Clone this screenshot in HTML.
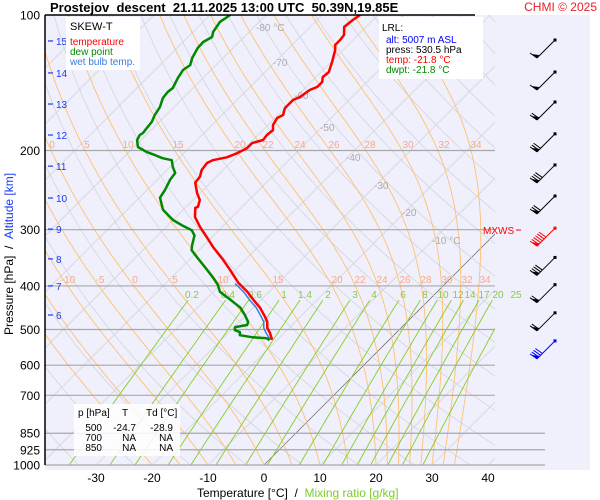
<!DOCTYPE html>
<html><head><meta charset="utf-8"><style>
body{margin:0;background:#fff;}
svg{display:block;font-family:"Liberation Sans",sans-serif;}
</style></head><body>
<svg id="c" width="600" height="500" viewBox="0 0 600 500" xmlns="http://www.w3.org/2000/svg">
<rect x="45" y="15" width="545" height="455" fill="#f0f0fc"/>
<defs><clipPath id="pc"><rect x="45" y="15" width="450" height="450"/></clipPath></defs>
<g id="bg" clip-path="url(#pc)"></g>
<g id="hl"></g>
<g id="lbl"></g>
<g id="ser" clip-path="url(#pc)"></g>
<g id="ax"></g>
<g id="wind"></g>

<line x1="45" y1="15" x2="475" y2="15" stroke="#000" stroke-width="1.5"/>
<line x1="45" y1="15" x2="45" y2="465" stroke="#000" stroke-width="1.5"/>
<text x="50" y="12" font-size="13" font-weight="bold">Prostejov&#160;&#160;descent&#160;&#160;21.11.2025 13:00 UTC&#160;&#160;50.39N,19.85E</text>
<text x="597" y="11" font-size="12" fill="#e8202a" text-anchor="end">CHMI © 2025</text>

<g>
<rect x="66" y="17" width="74" height="53" fill="#fff"/>
<text x="70" y="30" font-size="11">SKEW-T</text>
<text x="70" y="45" font-size="10" fill="#f00">temperature</text>
<text x="70" y="55" font-size="10" fill="#080">dew point</text>
<text x="70" y="65" font-size="10" fill="#3a7ce0">wet bulb temp.</text>
</g>
<g>
<rect x="379" y="17" width="104" height="62" fill="#fff"/>
<text x="382" y="31" font-size="10">LRL:</text>
<text x="386" y="43" font-size="10" fill="#00f">alt: 5007 m ASL</text>
<text x="386" y="53" font-size="10">press: 530.5 hPa</text>
<text x="386" y="63" font-size="10" fill="#f00">temp: -21.8 °C</text>
<text x="386" y="73" font-size="10" fill="#080">dwpt: -21.8 °C</text>
</g>
<g>
<rect x="74" y="404" width="106" height="52" fill="#fff" fill-opacity="0.85"/>
<text x="78" y="416" font-size="10">p [hPa]</text>
<text x="122" y="416" font-size="10">T</text>
<text x="146" y="416" font-size="10">Td [°C]</text>
<g font-size="10" text-anchor="end">
<text x="102" y="431">500</text><text x="136" y="431">-24.7</text><text x="173" y="431">-28.9</text>
<text x="102" y="441">700</text><text x="136" y="441">NA</text><text x="173" y="441">NA</text>
<text x="102" y="451">850</text><text x="136" y="451">NA</text><text x="173" y="451">NA</text>
</g></g>
<text x="483" y="234" font-size="10" fill="#f00">MXWS</text>
<line x1="516" y1="230" x2="521" y2="230" stroke="#f00"/>

<text font-size="12" transform="translate(13,335) rotate(-90)">Pressure [hPa]&#160;&#160;/&#160;&#160;<tspan fill="#1a3cf0">Altitude [km]</tspan></text>
<text x="197" y="497" font-size="12">Temperature [°C]&#160;&#160;/&#160;&#160;<tspan fill="#7ccc2a">Mixing ratio [g/kg]</tspan></text>
</svg>
<script>
// ---- data ----
const tempP = [100,102.6,106.3,110.8,113.6,116.6,119.6,127.2,133.9,137.3,140.9,144.5,146.8,152.1,154.5,161,166.8,169.4,175.6,180.2,184.8,189.6,192.6,197.8,202.9,207.1,210.2,213.3,221,228.9,235.8,248.8,257.6,266.8,268.2,281.2,296,311.7,328,350.2,368.5,393.8,412.3,429.4,447.1,468.2,480.7,495.8,509,527];
const tempT = [-63.2,-63.6,-63.9,-62.5,-62.3,-62.3,-61.4,-59.8,-58.6,-58.8,-58,-58,-58.8,-59.3,-60,-60,-59.1,-59.6,-59.1,-58.2,-58.4,-58.2,-59.6,-59.6,-60.5,-61.6,-63.6,-64.1,-63.8,-62.9,-62.7,-60.5,-58.8,-57.9,-58.2,-56.6,-53.9,-50.9,-48,-43.9,-40.9,-37.1,-33.9,-31.4,-28.8,-26.3,-25,-23.9,-22.5,-20.9];
const dewP = [100,103.6,109.1,111.9,114.8,118.4,124.6,129.2,132.5,138,145.3,148.2,152.9,160.2,166.8,172.9,178.3,182.9,184.8,189.6,196.5,201.7,204.8,208.1,210.2,217.7,224.4,232.4,244.6,254.7,271,285.5,293.1,300.9,309,324.7,333,345.2,368.5,383.8,397.9,412.3,429.4,447.1,464.2,480.7,488.5,493.7,501.5,506.8,514.8,520.2,523,528];
const dewT = [-86.4,-87,-86.4,-85.7,-86.4,-86.3,-85.5,-84.6,-85,-84.5,-83.6,-83.8,-83.6,-82.5,-82,-81.3,-81.1,-80.9,-81.1,-80.7,-79.3,-76.8,-74.8,-72.9,-70.9,-69.5,-68,-67.7,-66.8,-66.3,-63.6,-60,-57.5,-54.8,-53.4,-52.1,-51.3,-49.1,-45,-42.5,-40.4,-38.8,-35.5,-32.3,-30.2,-28.4,-28,-29.8,-29.3,-28,-27.5,-24.8,-22.1,-21.3];
const wetP = [395,412,430,447,468,481,496,509,527];
const wetT = [-37.6,-34.6,-32,-29.5,-27,-25.6,-24.5,-23.2,-21.2];
const pressTicks = [100,200,300,400,500,600,700,850,925,1000];
const tempTicks = [-30,-20,-10,0,10,20,30,40];
const altKm = [15,14,13,12,11,10,9,8,7,6];
const altP = [114.2,134.5,157.7,184.8,216.7,255.1,299,348.3,400,464.2];
const thetaW = [-20,-15,-10,-5,0,5,10,15,20,22,24,26,28,30,32,34];
const mixRatios = [0.2,0.4,0.6,1,1.4,2,3,4,6,8,10,12,14,17,20,25];
const windP = [125.9,148.3,172.9,203.5,238.6,279.7,329.7,383,440.3,508.5,587];
const windBarbs = [1,1,2,3,4,3,6,4,2,2,4];

const NS='http://www.w3.org/2000/svg';
function Y(p){return 15+450*Math.log10(p/100);}
function X(T,p){return 264+5.6*T+(465-Y(p));}
function mk(tag,attrs,parent){const e=document.createElementNS(NS,tag);for(const k in attrs)e.setAttribute(k,attrs[k]);parent.appendChild(e);return e;}
const bg=document.getElementById('bg'),hl=document.getElementById('hl'),lbl=document.getElementById('lbl'),ser=document.getElementById('ser'),ax=document.getElementById('ax'),wind=document.getElementById('wind');

for(let T=-140;T<=40;T+=10){
  const l=mk('line',{x1:X(T,1000),y1:Y(1000),x2:X(T,100),y2:Y(100),stroke:T===0?'#777':'#d4d4dc','stroke-width':0.8},bg);
  
  
}
for(let th=220;th<=480;th+=10){
  let d='';
  for(let p=1000;p>=100;p-=10){const T=th*Math.pow(p/1000,0.286)-273.15;d+=(d?'L':'M')+X(T,p).toFixed(1)+','+Y(p).toFixed(1);}
  const l=mk('path',{d:d,fill:'none',stroke:'#d4d4dc','stroke-width':0.8},bg);
  
  
}
function es(T){return 6.112*Math.exp(17.67*T/(T+243.5));}
thetaW.forEach(tw=>{
  let T=tw,d='M'+X(T,1000).toFixed(1)+','+Y(1000).toFixed(1);
  for(let p=1000;p>100;p-=2){
    const Tk=T+273.15,rs=0.622*es(T)/(p-es(T));
    const dTdp=(287*Tk+2.5e6*rs)/(p*(1004+2.5e6*2.5e6*rs*0.622/(287*Tk*Tk)));
    T-=dTdp*2;
    d+='L'+X(T,p-2).toFixed(1)+','+Y(p-2).toFixed(1);
  }
  const l=mk('path',{d:d,fill:'none',stroke:'#ffc070','stroke-width':0.9},bg);
  
  
});
mixRatios.forEach(w=>{
  let d='';
  for(let p=1000;p>=430;p-=10){
    const e=w*p/(622+w),x=Math.log(e/6.112),T=243.5*x/(17.67-x);
    d+=(d?'L':'M')+X(T,p).toFixed(1)+','+Y(p).toFixed(1);
  }
  const l=mk('path',{d:d,fill:'none',stroke:'#88cc22','stroke-width':0.9},bg);
  
  
});
pressTicks.forEach(p=>{
  if(p!==100){
    const l=mk('line',{x1:45,x2:p>=850?545:495,y1:Y(p),y2:Y(p),stroke:'#a8a8a8','stroke-width':1.2},hl);
    
    
  }
  const t=mk('text',{x:40,y:Y(p)+4.5,'font-size':12,'text-anchor':'end'},ax);t.textContent=p;
  
  
});
tempTicks.forEach(T=>{
  const t=mk('text',{x:X(T,1000),y:482,'font-size':12,'text-anchor':'middle'},ax);t.textContent=T;
  
  
});
altKm.forEach((k,i)=>{
  const y=Y(altP[i]);
  const l=mk('line',{x1:48,x2:53,y1:y,y2:y,stroke:'#1a3cf0','stroke-width':1.2},ax);
  
  
  const t=mk('text',{x:56,y:y+4,'font-size':10,fill:'#1a3cf0'},ax);t.textContent=k;
  
  
});
const isoLab=[['-80 °C',256,31],['-70',273,66],['-60',294,99],['-50',320,131],['-40',346,161],['-30',374,189],['-20',402,216],['-10 °C',432,244]];
isoLab.forEach(a=>{const t=mk('text',{x:a[1],y:a[2],'font-size':10,fill:'#aaa'},lbl);t.textContent=a[0];
  
  });
const tw200=[[0,52],[5,87],[10,128],[15,178],[20,240],[22,268],[24,300],[26,334],[28,370],[30,408],[32,444],[34,476]];
const tw400=[[-10,68],[-5,100],[0,135],[5,175],[10,223],[15,278],[20,337],[22,360],[24,382],[26,405],[28,426],[30,447],[32,467],[34,485]];
tw200.forEach(a=>{const t=mk('text',{x:a[1],y:148,'font-size':10,fill:'#f8a888','text-anchor':'middle'},lbl);t.textContent=a[0];
  
  });
tw400.forEach(a=>{const t=mk('text',{x:a[1],y:283,'font-size':10,fill:'#f8a888','text-anchor':'middle'},lbl);t.textContent=a[0];
  
  });
const mrX=[192,228,255,284,305,328,355,374,403,425,443,458,470,484,498,516];
mixRatios.forEach((w,i)=>{const t=mk('text',{x:mrX[i],y:298,'font-size':10,fill:'#88cc44','text-anchor':'middle'},lbl);t.textContent=w;
  
  });

function series(P,T,color,w,name){
  let d='';P.forEach((p,i)=>{d+=(i?'L':'M')+X(T[i],p).toFixed(1)+','+Y(p).toFixed(1);});
  const l=mk('path',{d:d,fill:'none',stroke:color,'stroke-width':w,'stroke-linejoin':'round'},ser);
  
  
}
series(wetP,wetT,'#3a7ce0',1.5,'wet-bulb-line');
series(dewP,dewT,'#008800',2.5,'dew-point-line');
series(tempP,tempT,'#ff0000',2.5,'temperature-line');

windP.forEach((p,i)=>{
  const y=Y(p),n=windBarbs[i];
  const col=i===6?'#f00':(i===10?'#00f':'#000');
  const g=mk('g',{stroke:col,fill:col},wind);
  
  
  const tx=555,ty=y-20,bx=537,by=y-2;
  mk('line',{x1:tx,y1:ty,x2:bx,y2:by,'stroke-width':1},g);
  mk('rect',{x:tx-1.5,y:ty-1.5,width:3,height:3,stroke:'none'},g);
  for(let k=0;k<n;k++){
    const f=k*0.1,x0=bx+(tx-bx)*f,y0=by+(ty-by)*f;
    mk('line',{x1:x0,y1:y0,x2:x0-7,y2:y0-5,'stroke-width':1},g);
  }
  mk('path',{d:`M${bx},${by}L${bx-6},${by-4}L${bx+2},${by-3}Z`,stroke:'none'},g);
});
</script>
</body></html>
